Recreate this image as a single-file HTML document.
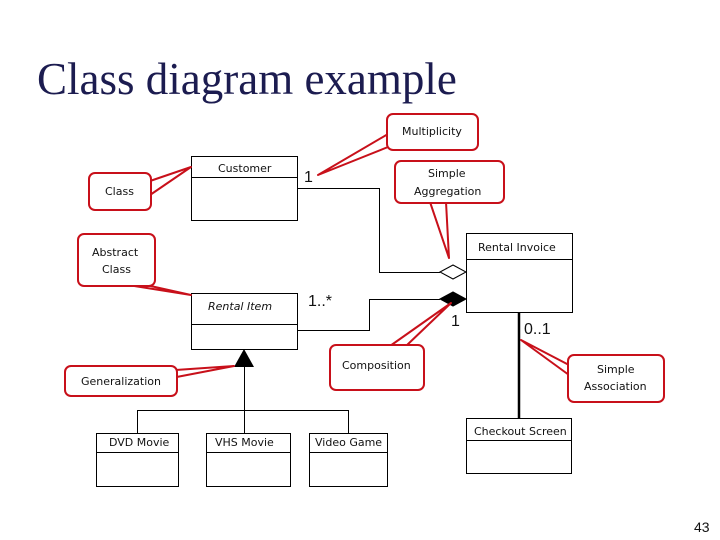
<!DOCTYPE html>
<html><head><meta charset="utf-8"><style>
html,body{margin:0;padding:0;background:#fff}
svg{display:block}
.t{font-family:"DejaVu Sans","Liberation Sans",sans-serif;font-size:11px;fill:#111}
.m{font-family:"Liberation Sans",sans-serif;font-size:16px;fill:#111}
</style></head><body>
<svg width="720" height="540" viewBox="0 0 720 540" xmlns="http://www.w3.org/2000/svg">
<text x="37" y="94" font-family="Liberation Serif,serif" font-size="45" fill="#1c1c50">Class diagram example</text>
<text x="694" y="532" font-family="Liberation Sans,sans-serif" font-size="14" fill="#111">43</text>

<g fill="none" stroke="#000" stroke-width="1">
<rect x="191.5" y="156.5" width="106" height="64" fill="#fff"/><line x1="191" y1="177.5" x2="297" y2="177.5"/>
<rect x="191.5" y="293.5" width="106" height="56" fill="#fff"/><line x1="191" y1="324.5" x2="297" y2="324.5"/>
<rect x="466.5" y="233.5" width="106" height="79" fill="#fff"/><line x1="466" y1="259.5" x2="572" y2="259.5"/>
<rect x="96.5" y="433.5" width="82" height="53" fill="#fff"/><line x1="96" y1="452.5" x2="178" y2="452.5"/>
<rect x="206.5" y="433.5" width="84" height="53" fill="#fff"/><line x1="206" y1="452.5" x2="290" y2="452.5"/>
<rect x="309.5" y="433.5" width="78" height="53" fill="#fff"/><line x1="309" y1="452.5" x2="387" y2="452.5"/>
<rect x="466.5" y="418.5" width="105" height="55" fill="#fff"/><line x1="466" y1="440.5" x2="571" y2="440.5"/>
<polyline points="297,188.5 379.5,188.5 379.5,272.5 440,272.5"/>
<polyline points="297,330.5 369.5,330.5 369.5,299.5 440,299.5"/>
<line x1="244.5" y1="367" x2="244.5" y2="410"/>
<polyline points="137.5,433 137.5,410.5 348.5,410.5 348.5,433"/>
<line x1="244.5" y1="410" x2="244.5" y2="433"/>
</g>
<line x1="519" y1="312" x2="519" y2="418" stroke="#000" stroke-width="2.5"/>
<polygon points="440,272 453,265 466,272 453,279" fill="#fff" stroke="#000"/>
<polygon points="440,299 453,292 466,299 453,306" fill="#000" stroke="#000"/>
<polygon points="244,349 254,367 234,367" fill="#000"/>

<text class="t" x="218" y="172">Customer</text>
<text class="t" x="208" y="310" font-style="italic">Rental Item</text>
<text class="t" x="478" y="251">Rental Invoice</text>
<text class="t" x="109" y="446">DVD Movie</text>
<text class="t" x="215" y="446">VHS Movie</text>
<text class="t" x="315" y="446">Video Game</text>
<text class="t" x="474" y="435">Checkout Screen</text>
<text class="m" x="304" y="182">1</text>
<text class="m" x="308" y="306">1..*</text>
<text class="m" x="451" y="326">1</text>
<text class="m" x="524" y="334">0..1</text>

<g fill="#fff" stroke="#c8101a" stroke-width="2" stroke-linejoin="round">
<polygon points="150,181 191,167 150,195"/>
<rect x="89" y="173" width="62" height="37" rx="6"/>
<polygon points="388,134 318,175 388,147"/>
<rect x="387" y="114" width="91" height="36" rx="6"/>
<polygon points="430,202 449,258 446,202"/>
<rect x="395" y="161" width="109" height="42" rx="6"/>
<polygon points="128,285 191,295 146,285"/>
<rect x="78" y="234" width="77" height="52" rx="6"/>
<polygon points="161,371 234,366 161,380"/>
<rect x="65" y="366" width="112" height="30" rx="6"/>
<polygon points="390,346 451,303 406,346"/>
<rect x="330" y="345" width="94" height="45" rx="6"/>
<polygon points="569,365 521,340 569,375"/>
<rect x="568" y="355" width="96" height="47" rx="6"/>
</g>
<text class="t" x="402" y="135">Multiplicity</text>
<text class="t" x="105" y="195">Class</text>
<text class="t" x="428" y="177">Simple</text>
<text class="t" x="414" y="195">Aggregation</text>
<text class="t" x="92" y="256">Abstract</text>
<text class="t" x="102" y="273">Class</text>
<text class="t" x="81" y="385">Generalization</text>
<text class="t" x="342" y="369">Composition</text>
<text class="t" x="597" y="373">Simple</text>
<text class="t" x="584" y="390">Association</text>
</svg>
</body></html>
